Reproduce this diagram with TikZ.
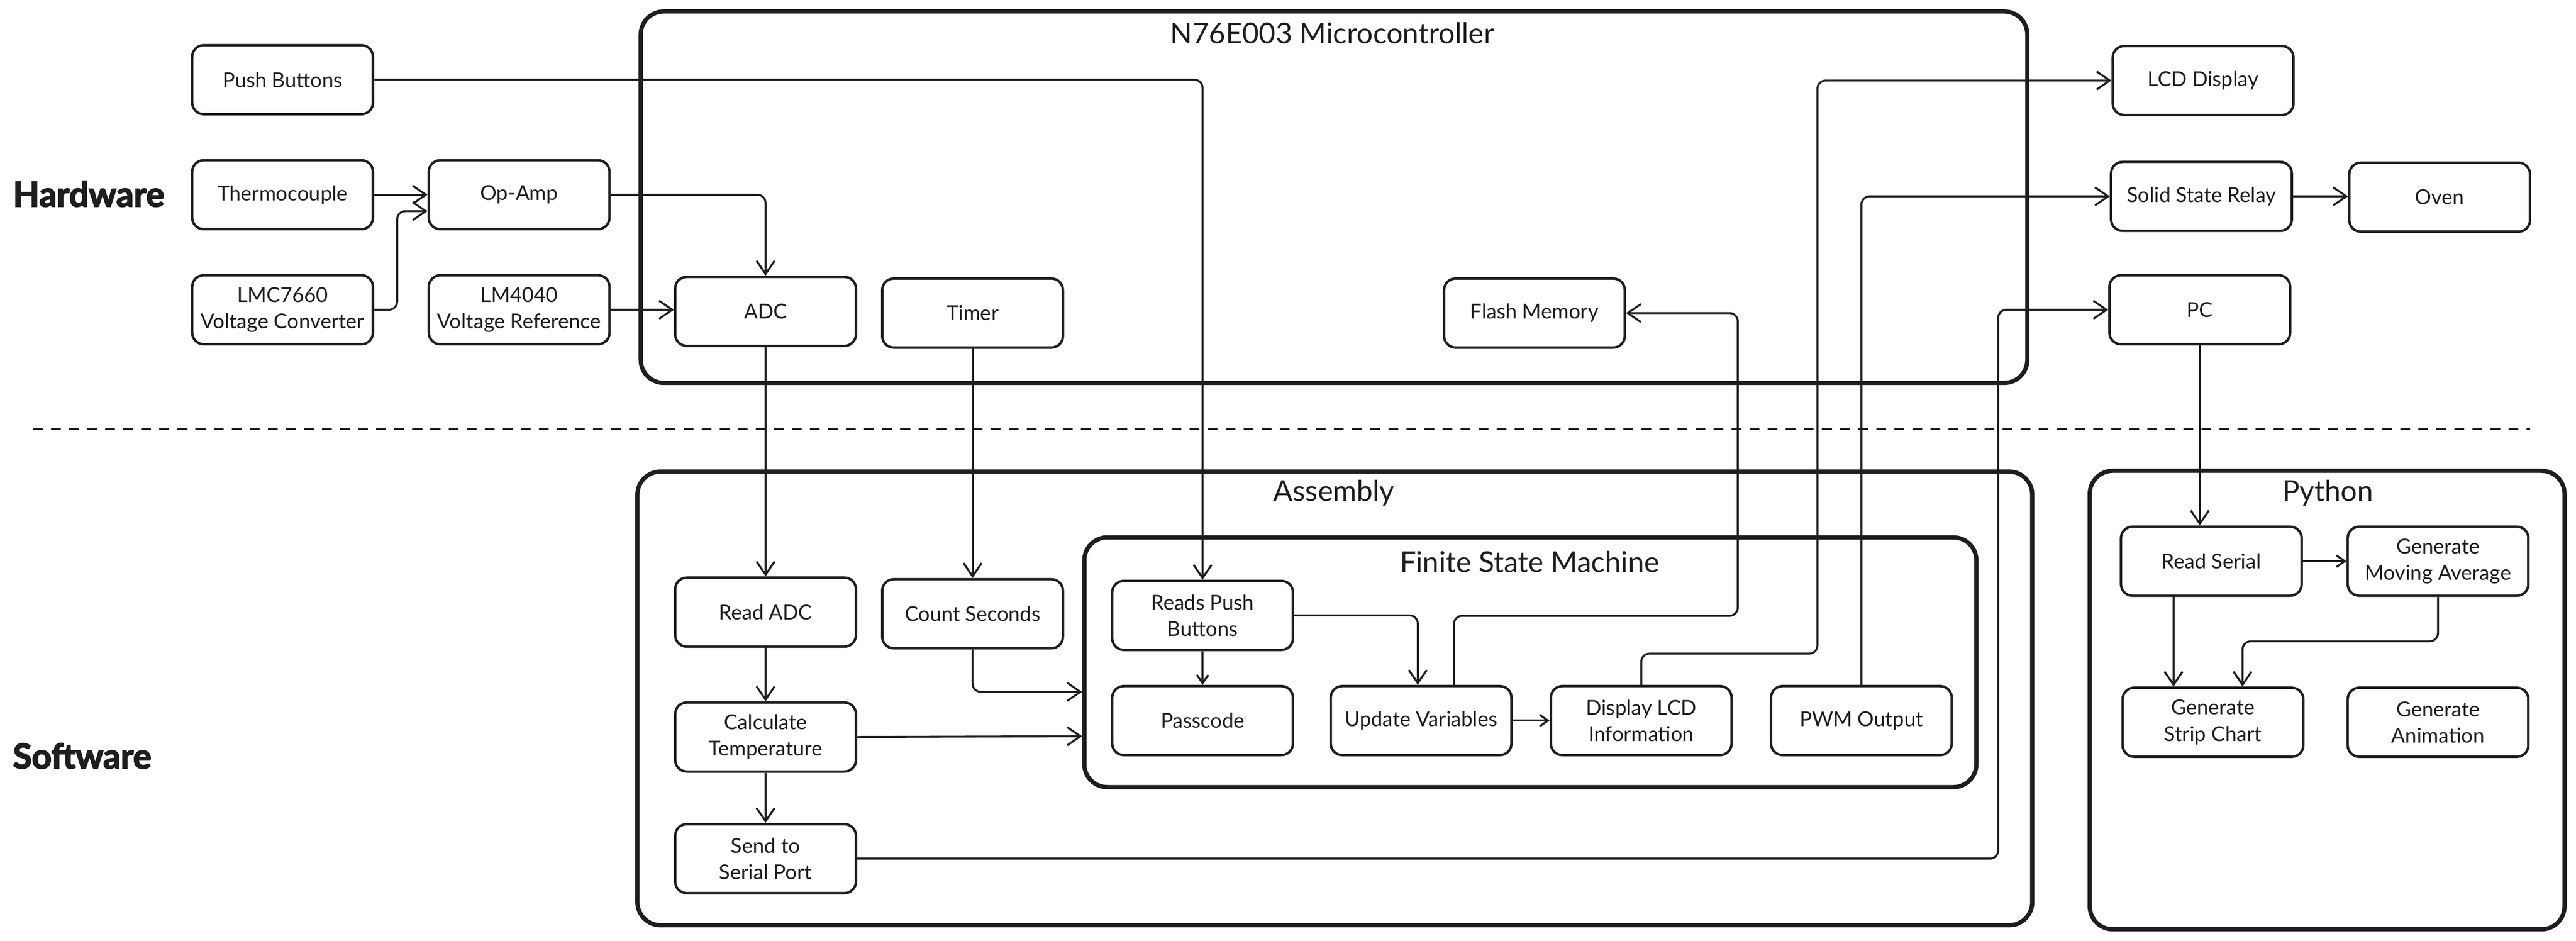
\documentclass[tikz,border=0pt]{standalone}
\usepackage{fontspec}
\setmainfont{Lato}
\newfontfamily\heavyfont{Lato}[UprightFeatures={FakeBold=3},BoldFeatures={FakeBold=3}]
\usetikzlibrary{arrows.meta,calc}
\definecolor{ink}{HTML}{1E1E1E}
\begin{document}
\begin{tikzpicture}[x=1pt,y=-1pt,
  box/.style={draw=ink, line width=1.5pt, rounded corners=7pt, minimum width=110pt, minimum height=42pt, inner sep=1pt, align=center, font=\fontsize{12.5}{16}\selectfont, text=ink},
  frame/.style={draw=ink, line width=2.6pt, rounded corners=14pt, inner sep=0pt},
  title/.style={font=\fontsize{17.5}{21}\selectfont, text=ink},
  conn/.style={draw=ink, line width=1.2pt, rounded corners=5pt, -{Straight Barb[length=8pt,width=11pt]}},
  sconn/.style={draw=ink, line width=1.2pt, -{Straight Barb[length=5pt,width=7pt]}},
  side/.style={font=\heavyfont\bfseries\fontsize{21}{24}\selectfont, text=ink}]
\useasboundingbox (0,0) rectangle (1568,572.4);
% frames
\node[frame, minimum width=844pt, minimum height=226pt] (mcu) at (812,120) {};
\node[frame, minimum width=849pt, minimum height=276pt] (asm) at (812.5,425) {};
\node[frame, minimum width=289pt, minimum height=279pt] (py) at (1416.5,426) {};
\node[frame, minimum width=543pt, minimum height=152pt] (fsm) at (931.5,403) {};
\node[title] (mcut) at (811,20) {N76E003 Microcontroller};
\node[title] (asmt) at (812,300) {Assembly};
\node[title] (pyt) at (1417,300) {Python};
\node[title] (fsmt) at (931,342) {Finite State Machine};
% side labels and separator
\node[side] (hw) at (54,118) {Hardware};
\node[side] (sw) at (50,460) {Software};
\coordinate (dl) at (20,261);
\coordinate (dr) at (1540,261);
\draw[ink, line width=1.2pt, dash pattern=on 6pt off 5pt] (dl) -- (dr);
% hardware boxes
\node[box] (pb) at (172,48.5) {Push Buttons};
\node[box] (tc) at (172,118.5) {Thermocouple};
\node[box] (lmc) at (172,188.5) {LMC7660\\Voltage Converter};
\node[box] (opamp) at (316,118.5) {Op-Amp};
\node[box] (lm) at (316,188.5) {LM4040\\Voltage Reference};
\node[box] (adc) at (466,189.5) {ADC};
\node[box] (timer) at (592,190.5) {Timer};
\node[box] (flash) at (934,190.5) {Flash Memory};
\node[box] (lcd) at (1341,49) {LCD Display};
\node[box] (ssr) at (1340,119.5) {Solid State Relay};
\node[box] (oven) at (1485,120) {Oven};
\node[box] (pc) at (1339,188.5) {PC};
% software boxes
\node[box] (radc) at (466,372.5) {Read ADC};
\node[box] (calc) at (466,448.5) {Calculate\\Temperature};
\node[box] (send) at (466,522.5) {Send to\\Serial Port};
\node[box] (cnt) at (592,373.5) {Count Seconds};
\node[box] (rpb) at (732,374.5) {Reads Push\\Buttons};
\node[box] (pass) at (732,438.5) {Passcode};
\node[box] (upd) at (865,438.5) {Update Variables};
\node[box] (dlcd) at (999,438.5) {Display LCD\\Information};
\node[box] (pwm) at (1133,438.5) {PWM Output};
\node[box] (rs) at (1346,341.5) {Read Serial};
\node[box] (ma) at (1484,341.5) {Generate\\Moving Average};
\node[box] (strip) at (1347,439.5) {Generate\\Strip Chart};
\node[box] (anim) at (1484,439.5) {Generate\\Animation};
% connectors
\draw[conn] (pb.east) -| (rpb.north);
\draw[conn] (tc.east) -- (tc.east -| opamp.west);
\draw[conn] (lmc.east) -- ++(14,0) |- ($(opamp.west)+(0,10)$);
\draw[conn] (opamp.east) -| (adc.north);
\draw[conn] (lm.east) -- (lm.east -| adc.west);
\draw[conn] (adc.south) -- (radc.north);
\draw[conn] (timer.south) -- (cnt.north);
\draw[conn] (radc.south) -- (calc.north);
\draw[conn] (calc.south) -- (send.north);
\draw[conn] (calc.east) -- ($(fsm.west)+(0,45)$);
\draw[conn] (cnt.south) |- ($(fsm.west)+(0,18)$);
\draw[sconn] (rpb.south) -- (pass.north);
\draw[conn] (rpb.east) -| ($(upd.north)+(-2,0)$);
\draw[sconn] (upd.east) -- (dlcd.west);
\draw[conn] ($(upd.north)+(20,0)$) -- ++(0,-42) -| ($(flash.east)+(68,0)$) -- (flash.east);
\draw[conn] (dlcd.north) -- ++(0,-19) -| ($(lcd.west)+(-179,0)$) -- (lcd.west);
\draw[conn] (pwm.north) |- (ssr.west);
\draw[conn] (ssr.east) -- (ssr.east -| oven.west);
\draw[conn] (send.east) -| ($(pc.west)+(-67,0)$) -- (pc.west);
\draw[conn] (pc.south) -- (pc.south |- rs.north);
\draw[sconn] (rs.east) -- (ma.west);
\draw[conn] ($(rs.south)+(-23,0)$) -- ($(strip.north)+(-24,0)$);
\draw[conn] (ma.south) -- ++(0,27) -| ($(strip.north)+(18,0)$);
\end{tikzpicture}
\end{document}
